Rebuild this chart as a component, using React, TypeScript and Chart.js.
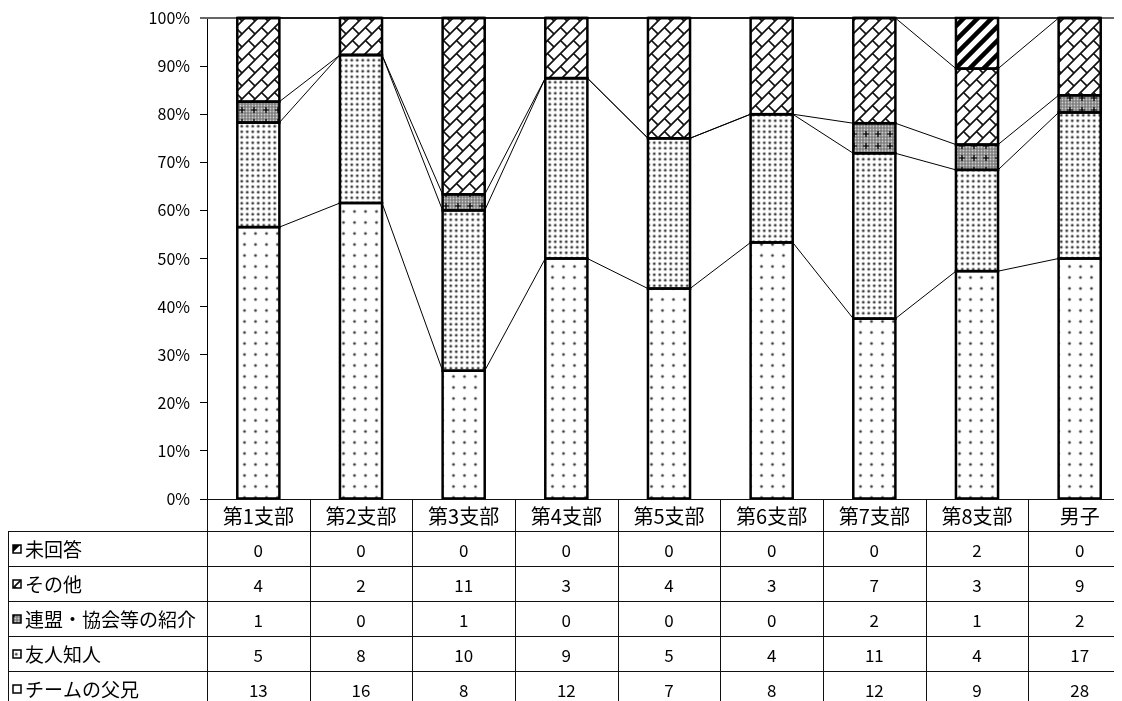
import React, { useEffect, useRef } from 'react';
import { Chart, registerables } from 'chart.js';

Chart.register(...registerables);

// Categories (branches) and answer counts per category
const branches = ['第1支部', '第2支部', '第3支部', '第4支部', '第5支部', '第6支部', '第7支部', '第8支部', '男子'];
const parentCounts = [13, 16, 8, 12, 7, 8, 12, 9, 28];
const friendCounts = [5, 8, 10, 9, 5, 4, 11, 4, 17];
const federationCounts = [1, 0, 1, 0, 0, 0, 2, 1, 2];
const otherCounts = [4, 2, 11, 3, 4, 3, 7, 3, 9];
const noAnswerCounts = [0, 0, 0, 0, 0, 0, 0, 2, 0];

// Stack order, bottom to top
const seriesLabels = ['チームの父兄', '友人知人', '連盟・協会等の紹介', 'その他', '未回答'];
const seriesCounts = [parentCounts, friendCounts, federationCounts, otherCounts, noAnswerCounts];

const FONT = '"Noto Sans CJK JP", "Noto Sans", sans-serif';

const totals = branches.map((_, i) => seriesCounts.reduce((s, arr) => s + arr[i], 0));
const toPercent = (arr: number[]) => arr.map((v, i) => (v / totals[i]) * 100);

function makeTile(
  ctx: CanvasRenderingContext2D,
  w: number,
  h: number,
  draw: (g: CanvasRenderingContext2D) => void,
): CanvasPattern {
  const c = document.createElement('canvas');
  c.width = w;
  c.height = h;
  const g = c.getContext('2d')!;
  draw(g);
  return ctx.createPattern(c, 'repeat')!;
}

function dot(g: CanvasRenderingContext2D, x: number, y: number, r: number, color: string) {
  g.fillStyle = color;
  g.beginPath();
  g.arc(x, y, r, 0, Math.PI * 2);
  g.fill();
}

function makePatterns(ctx: CanvasRenderingContext2D): CanvasPattern[] {
  // sparse dots
  const sparse = makeTile(ctx, 11, 11, (g) => {
    g.fillStyle = '#fff';
    g.fillRect(0, 0, 11, 11);
    dot(g, 5.5, 5.5, 1.9, '#c4c4c4');
    dot(g, 5.5, 5.5, 1.1, '#3c3c3c');
  });
  // dense dots
  const dense = makeTile(ctx, 11, 11, (g) => {
    g.fillStyle = '#fff';
    g.fillRect(0, 0, 11, 11);
    for (const [x, y] of [[2.75, 2.75], [8.25, 2.75], [2.75, 8.25], [8.25, 8.25]]) {
      dot(g, x, y, 1.9, '#c0c0c0');
      dot(g, x, y, 1.1, '#404040');
    }
  });
  // dark halftone with crosses
  const dark = makeTile(ctx, 12, 12, (g) => {
    g.fillStyle = '#7e7e7e';
    g.fillRect(0, 0, 12, 12);
    for (let y = 1.5; y < 12; y += 3) {
      for (let x = 1.5; x < 12; x += 3) dot(g, x, y, 0.9, '#cfcfcf');
    }
    g.strokeStyle = '#000';
    g.lineWidth = 1.2;
    g.beginPath();
    g.moveTo(3, 6);
    g.lineTo(9, 6);
    g.moveTo(6, 3);
    g.lineTo(6, 9);
    g.stroke();
  });
  // diagonal brick
  const brick = makeTile(ctx, 13, 13, (g) => {
    const s = 13;
    g.fillStyle = '#fff';
    g.fillRect(0, 0, s, s);
    g.strokeStyle = '#111';
    g.lineWidth = 1.7;
    g.beginPath();
    g.moveTo(-1, s + 1);
    g.lineTo(s + 1, -1);
    g.moveTo(-s / 2, s / 2);
    g.lineTo(s / 2, -s / 2);
    g.moveTo(s / 2, (3 * s) / 2);
    g.lineTo((3 * s) / 2, s / 2);
    g.moveTo(s / 2, s / 2);
    g.lineTo(s + 1, s + 1);
    g.moveTo(-1, -1);
    g.lineTo(0.5, 0.5);
    g.stroke();
  });
  // wide diagonal stripes
  const stripes = makeTile(ctx, 14, 14, (g) => {
    const s = 14;
    g.fillStyle = '#fff';
    g.fillRect(0, 0, s, s);
    g.strokeStyle = '#000';
    g.lineWidth = 4.5;
    g.beginPath();
    g.moveTo(-2, s + 2);
    g.lineTo(s + 2, -2);
    g.moveTo(-s / 2, s / 2);
    g.lineTo(s / 2, -s / 2);
    g.moveTo(s / 2, (3 * s) / 2);
    g.lineTo((3 * s) / 2, s / 2);
    g.stroke();
  });
  return [sparse, dense, dark, brick, stripes];
}

export default function App() {
  const canvasRef = useRef<HTMLCanvasElement>(null);

  useEffect(() => {
    const canvas = canvasRef.current!;
    const ctx = canvas.getContext('2d')!;
    const patterns = makePatterns(ctx);

    const headerH = 32;
    const rowH = 35;

    const overlay = {
      id: 'overlay',
      beforeDatasetsDraw(chart: any) {
        const { ctx: c, chartArea } = chart;
        c.save();
        c.strokeStyle = '#666';
        c.lineWidth = 2;
        c.beginPath();
        c.moveTo(chartArea.left - 7, chartArea.top);
        c.lineTo(chart.width, chartArea.top);
        c.stroke();
        c.restore();
      },
      afterDatasetsDraw(chart: any) {
        const c: CanvasRenderingContext2D = chart.ctx;
        const metas = chart.data.datasets.map((_: any, k: number) => chart.getDatasetMeta(k));
        c.save();
        // series lines joining segment tops of neighbouring bars
        c.strokeStyle = '#000';
        c.lineWidth = 1;
        metas.forEach((meta: any) => {
          const els = meta.data;
          for (let i = 0; i < els.length - 1; i++) {
            const a = els[i];
            const b = els[i + 1];
            c.beginPath();
            c.moveTo(a.x + a.width / 2, a.y);
            c.lineTo(b.x - b.width / 2, b.y);
            c.stroke();
          }
        });
        // segment outlines
        c.lineWidth = 2.5;
        metas.forEach((meta: any) =>
          meta.data.forEach((el: any) => {
            const top = Math.min(el.y, el.base);
            const h = Math.abs(el.base - el.y);
            c.strokeRect(el.x - el.width / 2, top, el.width, h);
          }),
        );
        c.restore();
      },
      afterDraw(chart: any) {
        const c: CanvasRenderingContext2D = chart.ctx;
        const { left, right, bottom } = chart.chartArea;
        const W = chart.width;
        const H = chart.height;
        const colW = (right - left) / branches.length;
        const px = (v: number) => Math.round(v) + 0.5;
        c.save();
        c.strokeStyle = '#111';
        c.lineWidth = 1;
        c.beginPath();
        // header top (category axis line)
        c.moveTo(left, px(bottom));
        c.lineTo(W, px(bottom));
        // row lines
        const y1 = bottom + headerH;
        for (let r = 0; r < seriesLabels.length; r++) {
          const y = px(y1 + r * rowH);
          c.moveTo(0, y);
          c.lineTo(W, y);
        }
        // outer left edge
        c.moveTo(0.5, y1);
        c.lineTo(0.5, H);
        // value axis continues down through the table
        c.moveTo(px(left), bottom);
        c.lineTo(px(left), H);
        for (let k = 1; k <= branches.length; k++) {
          const x = px(left + k * colW);
          c.moveTo(x, bottom);
          c.lineTo(x, H);
        }
        c.stroke();

        c.fillStyle = '#000';
        c.textAlign = 'center';
        c.textBaseline = 'middle';
        c.font = `20px ${FONT}`;
        branches.forEach((b, i) => {
          c.fillText(b, left + (i + 0.5) * colW, bottom + headerH / 2 + 1);
        });

        for (let r = 0; r < seriesLabels.length; r++) {
          const s = seriesLabels.length - 1 - r;
          const yc = y1 + r * rowH + rowH / 2;
          // legend key
          c.fillStyle = patterns[s];
          c.fillRect(5, yc - 3.5, 8, 8);
          c.strokeStyle = '#000';
          c.lineWidth = 1.5;
          c.strokeRect(5, yc - 3.5, 8, 8);
          c.fillStyle = '#000';
          c.textAlign = 'left';
          c.font = `19px ${FONT}`;
          c.fillText(seriesLabels[s], 17, yc + 1);
          c.textAlign = 'center';
          c.font = `17px ${FONT}`;
          seriesCounts[s].forEach((v, i) => {
            c.fillText(String(v), left + (i + 0.5) * colW, yc + 2);
          });
        }
        c.restore();
      },
    };

    const chart = new Chart(canvas, {
      type: 'bar',
      data: {
        labels: branches,
        datasets: seriesLabels.map((label, k) => ({
          label,
          data: toPercent(seriesCounts[k]),
          backgroundColor: patterns[k] as any,
          borderWidth: 0,
          barPercentage: 0.41,
          categoryPercentage: 1,
        })),
      },
      options: {
        responsive: false,
        animation: false,
        devicePixelRatio: 1,
        events: [],
        layout: { padding: { left: 0, right: 17, top: 0, bottom: 209 } },
        plugins: {
          legend: { display: false },
          tooltip: { enabled: false },
        },
        scales: {
          x: { stacked: true, display: false },
          y: {
            stacked: true,
            min: 0,
            max: 100,
            afterFit: (scale: any) => {
              scale.width = 199;
              scale.paddingTop = 10;
            },
            border: { display: true, color: '#000', width: 1 },
            grid: { drawOnChartArea: false, drawTicks: true, tickLength: 7, color: '#000' },
            ticks: {
              stepSize: 10,
              padding: 10,
              color: '#000',
              font: { family: FONT, size: 16 },
              callback: (v: any) => `${v}%`,
            },
          },
        },
      },
      plugins: [overlay],
    });

    return () => chart.destroy();
  }, []);

  return (
    <div style={{ width: 1114, height: 693, overflow: 'hidden' }}>
      <canvas ref={canvasRef} width={1140} height={700} style={{ display: 'block' }} />
    </div>
  );
}
